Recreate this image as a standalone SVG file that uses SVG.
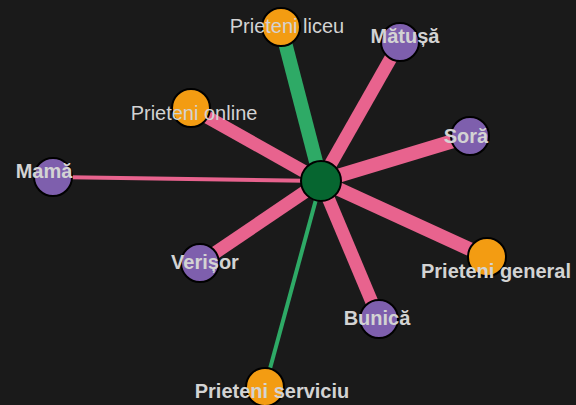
<svg xmlns="http://www.w3.org/2000/svg" width="576" height="405" viewBox="0 0 576 405">
<style>
.bg{fill:#1a1a1a}
.link{stroke-linecap:butt;fill:none}
.fam{stroke:#e8638e}
.fr{stroke:#2eaa66}
.node circle{stroke:#000;stroke-width:2}
.p{fill:#7e5fad}
.o{fill:#f39c12}
.c{fill:#066630}
text{font-family:"Liberation Sans",Arial,sans-serif;font-size:20px;fill:#d3d3d3;text-anchor:middle}
.b{font-weight:bold}
</style>
<rect class="bg" x="0" y="0" width="576" height="405"/>
<g id="connectors">
<line class="link fr" x1="321" y1="181" x2="281" y2="27" stroke-width="14"/>
<line class="link fam" x1="321" y1="181" x2="400" y2="42" stroke-width="13"/>
<line class="link fam" x1="321" y1="181" x2="191" y2="108" stroke-width="13"/>
<line class="link fam" x1="321" y1="181" x2="470" y2="136" stroke-width="14"/>
<line class="link fam" x1="321" y1="181" x2="53" y2="177" stroke-width="4"/>
<line class="link fam" x1="321" y1="181" x2="200" y2="263" stroke-width="13"/>
<line class="link fam" x1="321" y1="181" x2="487" y2="257" stroke-width="14"/>
<line class="link fam" x1="321" y1="181" x2="379" y2="319" stroke-width="13"/>
<line class="link fr" x1="321" y1="181" x2="265" y2="387" stroke-width="4"/>
</g>
<g id="node-eu" class="node"><circle class="c" cx="321" cy="181" r="20"/></g>
<g id="node-prieteni-liceu" class="node"><circle class="o" cx="281" cy="27" r="19"/><text x="287" y="33">Prieteni liceu</text></g>
<g id="node-matusa" class="node"><circle class="p" cx="400" cy="42" r="19"/><text class="b" x="405" y="43">Mătușă</text></g>
<g id="node-prieteni-online" class="node"><circle class="o" cx="191" cy="108" r="19"/><text x="194" y="120">Prieteni online</text></g>
<g id="node-sora" class="node"><circle class="p" cx="470" cy="136" r="19"/><text class="b" x="466" y="143">Soră</text></g>
<g id="node-mama" class="node"><circle class="p" cx="53" cy="177" r="19"/><text class="b" x="44" y="178">Mamă</text></g>
<g id="node-verisor" class="node"><circle class="p" cx="200" cy="263" r="19"/><text class="b" x="205" y="269">Verișor</text></g>
<g id="node-prieteni-general" class="node"><circle class="o" cx="487" cy="257" r="19"/><text class="b" x="496" y="278">Prieteni general</text></g>
<g id="node-bunica" class="node"><circle class="p" cx="379" cy="319" r="19"/><text class="b" x="377" y="325">Bunică</text></g>
<g id="node-prieteni-serviciu" class="node"><circle class="o" cx="265" cy="387" r="19"/><text class="b" x="272" y="398">Prieteni serviciu</text></g>
</svg>
